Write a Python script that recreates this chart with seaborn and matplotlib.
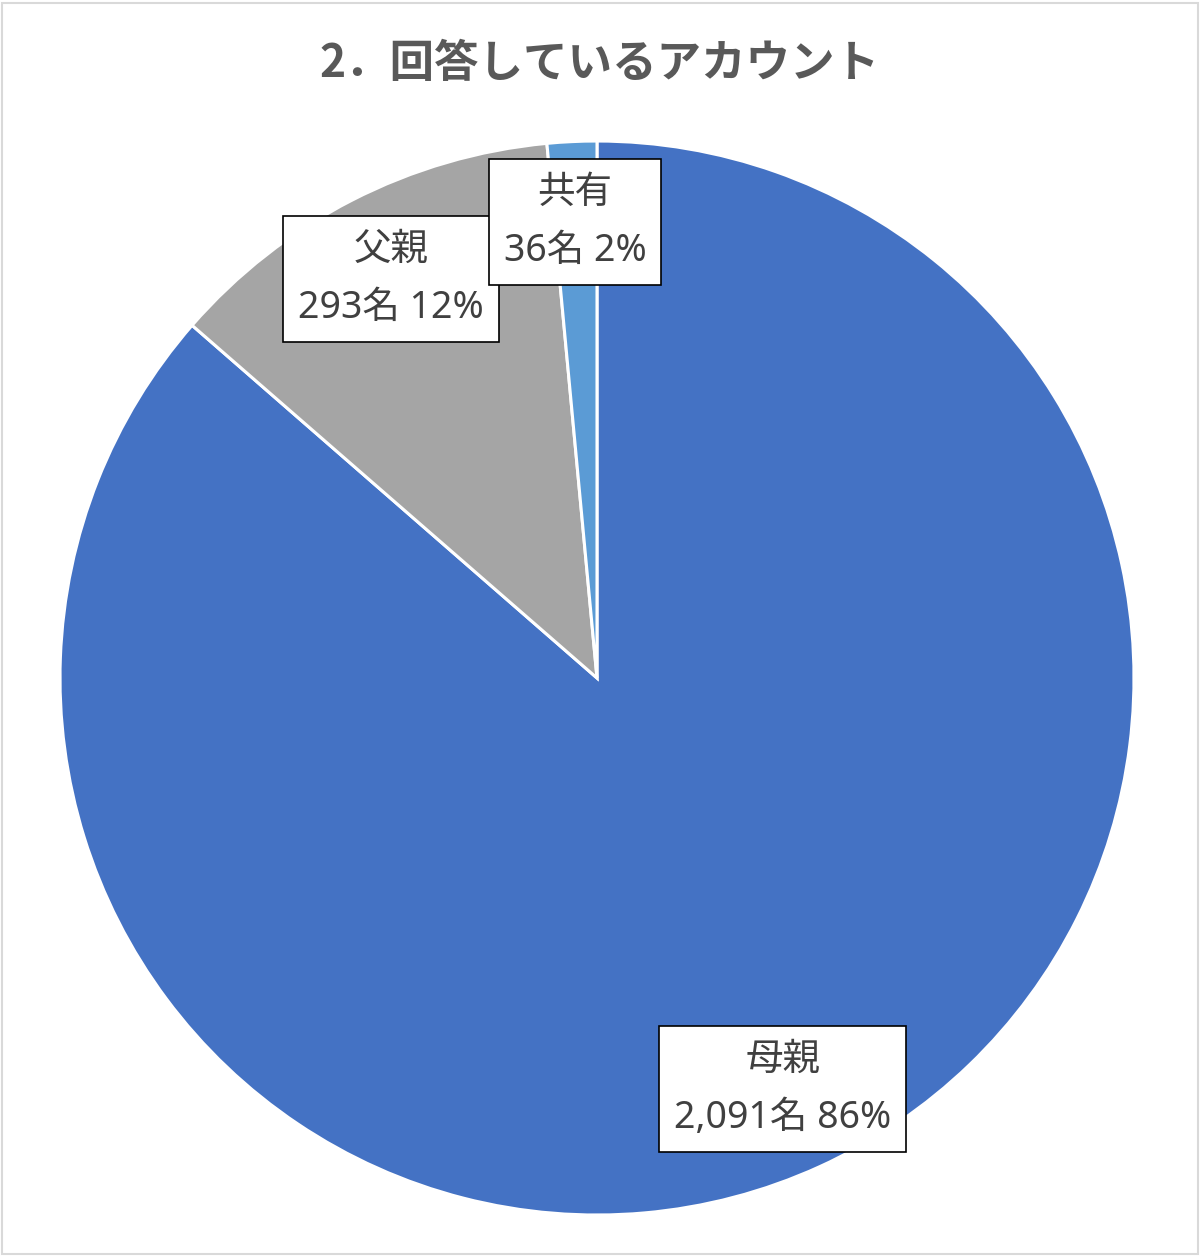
import matplotlib
matplotlib.use("Agg")
import matplotlib.pyplot as plt
import seaborn as sns
from matplotlib.patches import Rectangle

sns.set_theme(style="white")
plt.rcParams['font.family'] = ['Noto Sans', 'Noto Sans CJK JP', 'DejaVu Sans']

title = "2．回答しているアカウント"
categories = ["母親", "父親", "共有"]
counts = [2091, 293, 36]
count_labels = ["2,091名", "293名", "36名"]
percent_labels = ["86%", "12%", "2%"]
colors = ["#4472C4", "#A5A5A5", "#5B9BD5"]

label_pos = [(0.346, -0.765), (-0.384, 0.743), (-0.041, 0.849)]

fig = plt.figure(figsize=(12, 12.57), dpi=100)
fig.patch.set_facecolor("white")
fig.patches.append(Rectangle((0.002, 0.002), 0.996, 0.996, transform=fig.transFigure,
                             fill=False, edgecolor="#D9D9D9", linewidth=1.5))

ax = fig.add_axes([0.05, 0.0334, 0.895, 0.8544])
wedges, _ = ax.pie(counts, colors=colors, startangle=90, counterclock=False,
                   radius=1.0, wedgeprops=dict(edgecolor="white", linewidth=2.2))
ax.set_xlim(-1, 1)
ax.set_ylim(-1, 1)
ax.set_aspect("equal")
ax.axis("off")

for cat, cl, pl, (x, y) in zip(categories, count_labels, percent_labels, label_pos):
    ax.text(x, y, f"{cat}\n{cl} {pl}", ha="center", va="center", fontsize=27,
            color="#404040", linespacing=1.67,
            bbox=dict(boxstyle="square,pad=0.4", facecolor="white",
                      edgecolor="black", linewidth=1.2))

fig.text(0.5, 1 - 64 / 1257, title, ha="center", va="center", fontsize=32,
         fontweight="bold", color="#595959", family=['Noto Sans CJK JP', 'DejaVu Sans'])

fig.savefig("out.png", dpi=100, facecolor="white")
